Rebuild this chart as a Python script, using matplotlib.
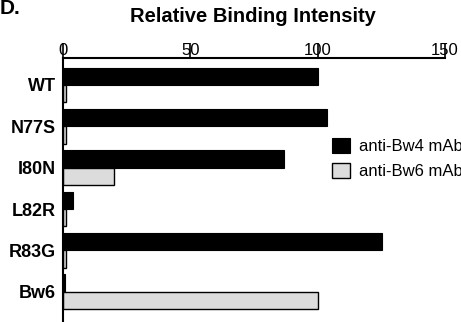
import numpy as np
import matplotlib.pyplot as plt

plt.rcParams['font.family'] = ['Liberation Sans', 'DejaVu Sans']

# data
mutants = ["WT", "N77S", "I80N", "L82R", "R83G", "Bw6"]
bw4 = [100, 103.7, 86.8, 3.8, 125.3, 0.8]
bw6 = [1, 1, 20, 1, 1, 100]
ticks = [0, 50, 100, 150]

fig = plt.figure(figsize=(4.61, 3.22), dpi=100)
ax = fig.add_axes([63 / 461, 0.0, (445 - 63) / 461, 1 - 58 / 322])

y = np.arange(len(mutants))
h = 0.42
ax.barh(y - h / 2, bw4, height=h, color="black", edgecolor="black", lw=0.8,
        label="anti-Bw4 mAb")
ax.barh(y + h / 2, bw6, height=h, color="#dcdcdc", edgecolor="black", lw=1.0,
        label="anti-Bw6 mAb")

ax.set_xlim(0, 150)
ax.set_ylim(5.73, -0.65)
ax.set_xticks(ticks)
ax.xaxis.tick_top()
ax.tick_params(axis="x", direction="out", length=11, width=1.2, pad=-11,
               labelsize=12)
ax.set_yticks(y)
ax.set_yticklabels(mutants, fontweight="bold", fontsize=13)
ax.tick_params(axis="y", length=0, pad=5)

for s in ["right", "bottom"]:
    ax.spines[s].set_visible(False)
for s in ["top", "left"]:
    ax.spines[s].set_linewidth(1.5)

fig.text(253 / 461, 1 - 16 / 322, "Relative Binding Intensity", ha="center",
         va="center", fontsize=14.5, fontweight="bold")
fig.text(0.0, 1 - 8 / 322, "D.", ha="left", va="center", fontsize=15,
         fontweight="bold")

ax.legend(loc="upper left", bbox_to_anchor=(332 / 461, 1 - 138 / 322),
          bbox_transform=fig.transFigure, frameon=False, fontsize=12,
          handlelength=1.05, handleheight=1.05, handletextpad=0.55,
          labelspacing=0.5, borderaxespad=0, borderpad=0)

fig.savefig("out.png", dpi=100)
